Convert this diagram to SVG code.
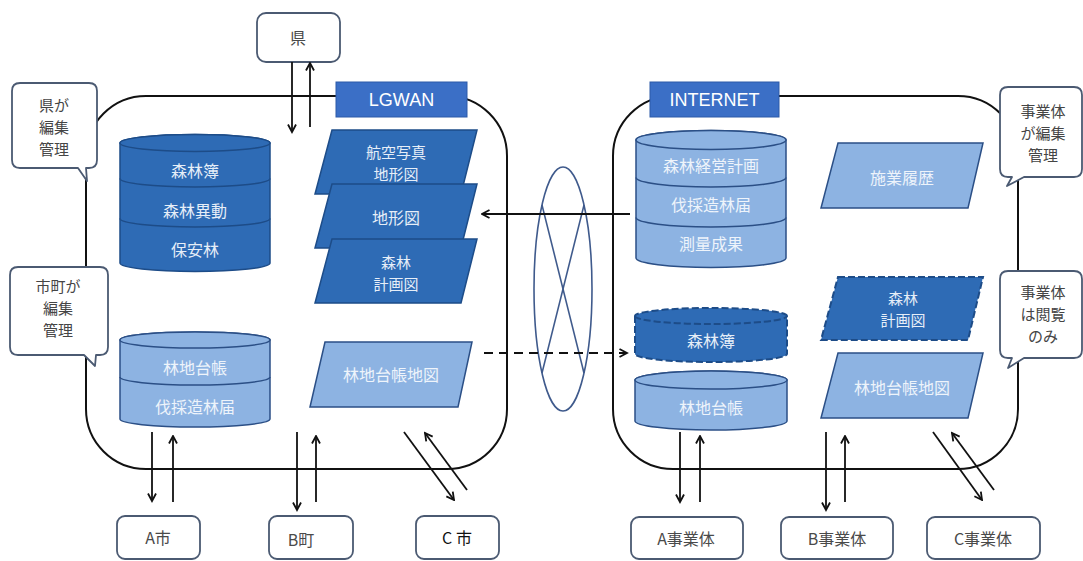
<svg xmlns="http://www.w3.org/2000/svg" width="1083" height="561" viewBox="0 0 1083 561">
  <defs>
    <marker id="arr" viewBox="0 0 10 10" refX="8.5" refY="5" markerWidth="10" markerHeight="10" markerUnits="userSpaceOnUse" orient="auto">
      <path d="M1,1 L8.5,5 L1,9" fill="none" stroke="#111" stroke-width="1.8"/>
    </marker>
    <style>
      .net { fill: none; stroke: #111; stroke-width: 2; }
      .tag { fill: #3b6fc6; stroke: #2d5aa8; stroke-width: 1; }
      .tagt { font-family: "Liberation Sans", Arial, sans-serif; font-size: 18px; fill: #ffffff; text-anchor: middle; }
      .dark { fill: #2e6bb5; stroke: #1d4c88; stroke-width: 1.5; }
      .light { fill: #8db3e2; stroke: #2b4f86; stroke-width: 1.5; }
      .dash { fill: #2e6bb5; stroke: #1d4c88; stroke-width: 2; stroke-dasharray: 7 3; }
      .band { fill: none; stroke: #1d4c88; stroke-width: 1.5; }
      .bandl { fill: none; stroke: #2b4f86; stroke-width: 1.5; }
      .st { font-family: "Noto Sans CJK JP", sans-serif; font-size: 16px; fill: #e6eef8; text-anchor: middle; dominant-baseline: central; }
      .st2 { font-size: 15px; }
      .stl { font-family: "Noto Sans CJK JP", sans-serif; font-size: 16px; fill: #eef4fb; text-anchor: middle; dominant-baseline: central; }
      .bubble { fill: #ffffff; stroke: #4b5a72; stroke-width: 1.8; stroke-linejoin: round; }
      .bt { font-family: "Noto Sans CJK JP", sans-serif; font-size: 15px; fill: #454545; text-anchor: middle; dominant-baseline: central; }
      .box { fill: #ffffff; stroke: #4b5a72; stroke-width: 1.8; }
      .boxt { font-family: "Noto Sans CJK JP", sans-serif; font-size: 16px; fill: #4a4a4a; text-anchor: middle; dominant-baseline: central; }
      .ln { fill: none; stroke: #111; stroke-width: 1.8; }
      .ring { fill: none; stroke: #3f5a8c; stroke-width: 1.6; }
    </style>
  </defs>
  <rect width="1083" height="561" fill="#ffffff"/>

  <!-- network boundaries -->
  <g id="networks">
    <path class="net" d="M146,96 H447 A60,60 0 0 1 507,156 V409 A60,60 0 0 1 447,469 H146 A60,60 0 0 1 86,409 V156 A60,60 0 0 1 146,96 Z"/>
    <path class="net" d="M673,96 H958 A60,60 0 0 1 1018,156 V409 A60,60 0 0 1 958,469 H673 A60,60 0 0 1 613,409 V156 A60,60 0 0 1 673,96 Z"/>
  </g>

  <g id="lgwan-tag">
    <rect class="tag" x="336" y="82" width="131" height="35"/>
    <text class="tagt" x="401.5" y="106">LGWAN</text>
  </g>
  <g id="internet-tag">
    <rect class="tag" x="650" y="82" width="129" height="35"/>
    <text class="tagt" x="714.5" y="106">INTERNET</text>
  </g>

  <!-- gateway between the two networks -->
  <g id="gateway">
    <ellipse class="ring" cx="563" cy="289" rx="29" ry="122"/>
    <line class="ring" x1="542" y1="205" x2="584" y2="373"/>
    <line class="ring" x1="584" y1="205" x2="542" y2="373"/>
  </g>

  <!-- LGWAN side -->
  <g id="db-pref">
    <path class="dark" d="M120,143 V263 A75,8.5 0 0 0 270,263 V143 A75,8.5 0 0 0 120,143 Z"/>
    <ellipse class="dark" cx="195" cy="143" rx="75" ry="8.5"/>
    <path class="band" d="M120,178.5 A75,8.5 0 0 0 270,178.5"/>
    <path class="band" d="M120,218.5 A75,8.5 0 0 0 270,218.5"/>
    <text class="st" x="195" y="170">森林簿</text>
    <text class="st" x="195" y="210">森林異動</text>
    <text class="st" x="195" y="249">保安林</text>
  </g>

  <g id="map-aerial">
    <polygon class="dark" points="332,130 477,130 461,194 315,194"/>
    <text class="st st2" x="396" y="151">航空写真</text>
    <text class="st st2" x="396" y="173">地形図</text>
  </g>
  <g id="map-topo">
    <polygon class="dark" points="332,184 477,184 461,248 315,248"/>
    <text class="st" x="396" y="217">地形図</text>
  </g>
  <g id="map-plan">
    <polygon class="dark" points="332,239 477,239 461,303 315,303"/>
    <text class="st st2" x="396" y="261">森林</text>
    <text class="st st2" x="396" y="283">計画図</text>
  </g>

  <g id="db-city">
    <path class="light" d="M120,340 V419 A75,8 0 0 0 270,419 V340 A75,8 0 0 0 120,340 Z"/>
    <ellipse class="light" cx="195" cy="340" rx="75" ry="8"/>
    <path class="bandl" d="M120,377 A75,8 0 0 0 270,377"/>
    <text class="stl" x="195" y="367">林地台帳</text>
    <text class="stl" x="195" y="406">伐採造林届</text>
  </g>
  <g id="map-ledger-l">
    <polygon class="light" points="325,342 472,342 458,407 310,407"/>
    <text class="stl" x="391" y="374">林地台帳地図</text>
  </g>

  <!-- INTERNET side -->
  <g id="db-biz">
    <path class="light" d="M636,140 V258 A75,9.5 0 0 0 786,258 V140 A75,9.5 0 0 0 636,140 Z"/>
    <ellipse class="light" cx="711" cy="140" rx="75" ry="9.5"/>
    <path class="bandl" d="M636,177.5 A75,9.5 0 0 0 786,177.5"/>
    <path class="bandl" d="M636,217.5 A75,9.5 0 0 0 786,217.5"/>
    <text class="stl" x="711" y="165">森林経営計画</text>
    <text class="stl" x="711" y="204">伐採造林届</text>
    <text class="stl" x="711" y="243">測量成果</text>
  </g>
  <g id="map-history">
    <polygon class="light" points="838,143 983,143 968,208 821,208"/>
    <text class="stl" x="902" y="177">施業履歴</text>
  </g>
  <g id="db-copy">
    <path class="dash" d="M635,316 V354 A76,8 0 0 0 787,354 V316 A76,8 0 0 0 635,316 Z"/>
    <path class="dash" d="M635,316 A76,8 0 0 0 787,316"/>
    <text class="st" x="711" y="340">森林簿</text>
  </g>
  <g id="map-plan-copy">
    <polygon class="dash" points="838,277 983,277 968,340 821,340"/>
    <text class="st st2" x="903" y="297">森林</text>
    <text class="st st2" x="903" y="319">計画図</text>
  </g>
  <g id="db-ledger-r">
    <path class="light" d="M635,380 V421 A76,9 0 0 0 787,421 V380 A76,9 0 0 0 635,380 Z"/>
    <ellipse class="light" cx="711" cy="380" rx="76" ry="9"/>
    <text class="stl" x="711" y="407">林地台帳</text>
  </g>
  <g id="map-ledger-r">
    <polygon class="light" points="838,353 983,353 968,418 821,418"/>
    <text class="stl" x="902" y="387">林地台帳地図</text>
  </g>

  <!-- speech bubbles -->
  <g id="note-pref">
    <path class="bubble" d="M20,83 H89 Q97,83 97,91 V160 Q97,168 89,168 H86 L87,181 L78,168 H20 Q12,168 12,160 V91 Q12,83 20,83 Z"/>
    <text class="bt" x="54" y="104">県が</text>
    <text class="bt" x="54" y="126">編集</text>
    <text class="bt" x="54" y="148">管理</text>
  </g>
  <g id="note-city">
    <path class="bubble" d="M18,267 H100 Q108,267 108,275 V347 Q108,355 100,355 H96 L95,366 L84,355 H18 Q10,355 10,347 V275 Q10,267 18,267 Z"/>
    <text class="bt" x="58" y="285">市町が</text>
    <text class="bt" x="58" y="307">編集</text>
    <text class="bt" x="58" y="329">管理</text>
  </g>
  <g id="note-biz-edit">
    <path class="bubble" d="M1008,87 H1074 Q1082,87 1082,95 V169 Q1082,177 1074,177 H1024 L1007,186 L1012,177 H1008 Q1000,177 1000,169 V95 Q1000,87 1008,87 Z"/>
    <text class="bt" x="1043" y="110">事業体</text>
    <text class="bt" x="1043" y="132">が編集</text>
    <text class="bt" x="1043" y="154">管理</text>
  </g>
  <g id="note-biz-view">
    <path class="bubble" d="M1008,271 H1074 Q1082,271 1082,279 V350 Q1082,358 1074,358 H1024 L1008,368 L1012,358 H1008 Q1000,358 1000,350 V279 Q1000,271 1008,271 Z"/>
    <text class="bt" x="1043" y="291">事業体</text>
    <text class="bt" x="1043" y="313">は閲覧</text>
    <text class="bt" x="1043" y="335">のみ</text>
  </g>

  <!-- parties -->
  <g id="pref">
    <rect class="box" x="257" y="13" width="83" height="49" rx="9"/>
    <text class="boxt" x="298" y="37">県</text>
  </g>
  <g id="city-a">
    <rect class="box" x="117" y="516" width="83" height="43" rx="8"/>
    <text class="boxt" x="158" y="537">A市</text>
  </g>
  <g id="town-b">
    <rect class="box" x="269" y="516" width="84" height="43" rx="8"/>
    <text class="boxt" x="301" y="539">B町</text>
  </g>
  <g id="city-c">
    <rect class="box" x="416" y="516" width="83" height="43" rx="8"/>
    <text class="boxt" x="457" y="537" style="fill:#111">C 市</text>
  </g>
  <g id="biz-a">
    <rect class="box" x="631" y="517" width="112" height="42" rx="8"/>
    <text class="boxt" x="686" y="538">A事業体</text>
  </g>
  <g id="biz-b">
    <rect class="box" x="781" y="517" width="112" height="42" rx="8"/>
    <text class="boxt" x="837" y="538">B事業体</text>
  </g>
  <g id="biz-c">
    <rect class="box" x="927" y="517" width="113" height="42" rx="8"/>
    <text class="boxt" x="983" y="538">C事業体</text>
  </g>

  <!-- connectors -->
  <g id="connectors">
    <line class="ln" x1="292" y1="62" x2="292" y2="132" marker-end="url(#arr)"/>
    <line class="ln" x1="310" y1="127" x2="310" y2="63" marker-end="url(#arr)"/>

    <line class="ln" x1="630" y1="214" x2="482" y2="214" marker-end="url(#arr)"/>
    <line class="ln" x1="484" y1="353" x2="627" y2="353" marker-end="url(#arr)" stroke-dasharray="9 6"/>

    <line class="ln" x1="152" y1="432" x2="152" y2="501" marker-end="url(#arr)"/>
    <line class="ln" x1="173" y1="502" x2="173" y2="436" marker-end="url(#arr)"/>
    <line class="ln" x1="297" y1="432" x2="297" y2="510" marker-end="url(#arr)"/>
    <line class="ln" x1="316" y1="502" x2="316" y2="436" marker-end="url(#arr)"/>
    <line class="ln" x1="404" y1="432" x2="454" y2="500" marker-end="url(#arr)"/>
    <line class="ln" x1="467" y1="490" x2="425" y2="433" marker-end="url(#arr)"/>

    <line class="ln" x1="680" y1="432" x2="680" y2="502" marker-end="url(#arr)"/>
    <line class="ln" x1="700" y1="502" x2="700" y2="436" marker-end="url(#arr)"/>
    <line class="ln" x1="826" y1="432" x2="826" y2="510" marker-end="url(#arr)"/>
    <line class="ln" x1="845" y1="502" x2="845" y2="436" marker-end="url(#arr)"/>
    <line class="ln" x1="933" y1="432" x2="982" y2="500" marker-end="url(#arr)"/>
    <line class="ln" x1="994" y1="490" x2="952" y2="433" marker-end="url(#arr)"/>
  </g>
</svg>
